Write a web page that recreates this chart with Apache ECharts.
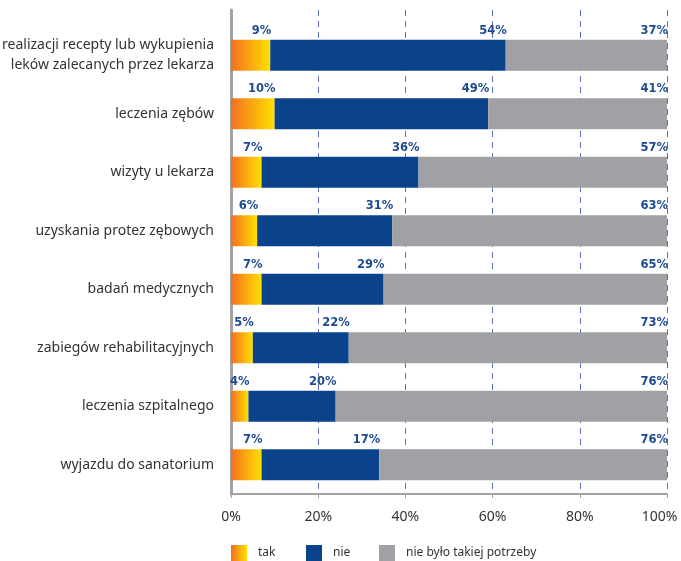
<!DOCTYPE html>
<html><head><meta charset="utf-8">
<script src="https://cdn.jsdelivr.net/npm/echarts@6/dist/echarts.min.js"></script>
<style>html,body{margin:0;padding:0;background:#fff}#c{width:681px;height:561px}</style>
</head><body><div id="c"></div>
<script>
const categories = [
  'realizacji recepty lub wykupienia\nleków zalecanych przez lekarza',
  'leczenia zębów',
  'wizyty u lekarza',
  'uzyskania protez zębowych',
  'badań medycznych',
  'zabiegów rehabilitacyjnych',
  'leczenia szpitalnego',
  'wyjazdu do sanatorium'
];
const seriesNames = ['tak', 'nie', 'nie było takiej potrzeby'];
// bar lengths as drawn in the picture
const tak = [9, 10, 7, 6, 7, 5, 4, 7];
const nie = [54, 49, 36, 31, 28, 22, 20, 27];
const brak = [37, 41, 57, 63, 65, 73, 76, 66];
// percentage labels as printed
const takLabels = [9, 10, 7, 6, 7, 5, 4, 7];
const nieLabels = [54, 49, 36, 31, 29, 22, 20, 17];
const brakLabels = [37, 41, 57, 63, 65, 73, 76, 76];
const xTicks = [0, 20, 40, 60, 80, 100];

const chart = echarts.init(document.getElementById('c'));
const grad = new echarts.graphic.LinearGradient(0, 0, 1, 0, [
  {offset: 0, color: '#f36f21'}, {offset: 1, color: '#ffe100'}
]);
const labelBase = {
  show: true, position: 'insideTopRight', distance: 0, offset: [1, -15],
  color: '#1d4a92', fontSize: 11.5, fontWeight: 'bold', fontFamily: 'DejaVu Sans'
};
function mkSeries(name, data, labels, color) {
  return {
    name, type: 'bar', stack: 'a', data, barWidth: 31,
    xAxisIndex: 0, yAxisIndex: 0,
    itemStyle: {color},
    label: Object.assign({}, labelBase, {formatter: p => labels[p.dataIndex] + '%'}),
    emphasis: {disabled: true}
  };
}
const legendCommon = {
  top: 545, itemWidth: 16, itemHeight: 16, icon: 'rect', selectedMode: false, padding: 0,
  textStyle: {color: '#333', fontSize: 12, fontFamily: 'Noto Sans', padding: [0, 0, 0, 6]}
};
chart.setOption({
  animation: false,
  legend: [
    Object.assign({}, legendCommon, {left: 231, data: [seriesNames[0]]}),
    Object.assign({}, legendCommon, {left: 306, data: [seriesNames[1]]}),
    Object.assign({}, legendCommon, {left: 379, data: [seriesNames[2]]})
  ],
  grid: [
    {left: 231, right: 14, top: 26, bottom: 67, containLabel: false, outerBoundsMode: 'none'},
    {left: 231, right: 14, top: 10, bottom: 67, containLabel: false, outerBoundsMode: 'none'}
  ],
  xAxis: [
    {type: 'value', gridIndex: 0, min: 0, max: 100, interval: 20,
      axisLine: {show: true, lineStyle: {color: '#a3a3a3', width: 2}},
      axisTick: {show: true, length: 4, lineStyle: {color: '#a3a3a3'}},
      splitLine: {show: false},
      axisLabel: {
        formatter: v => v === 100 ? '{last|100%}' : v + '%',
        color: '#333', fontSize: 14, margin: 16, fontFamily: 'Noto Sans',
        rich: {last: {color: '#333', fontSize: 14, fontFamily: 'Noto Sans', padding: [0, 15, 0, 0]}},
        customValues: xTicks}},
    {type: 'value', gridIndex: 1, min: 0, max: 100, interval: 20,
      axisLine: {show: false}, axisTick: {show: false}, axisLabel: {show: false},
      splitLine: {show: true, lineStyle: {color: '#5b6fb8', type: [6, 5], width: 1}}}
  ],
  yAxis: [
    {type: 'category', gridIndex: 0, data: categories, inverse: true,
      axisLine: {show: false}, axisTick: {show: false},
      axisLabel: {color: '#333', fontSize: 14, margin: 17, lineHeight: 20, fontFamily: 'Noto Sans', align: 'right'}},
    {type: 'value', gridIndex: 1, min: 0, max: 1,
      axisLine: {show: true, onZero: false, lineStyle: {color: '#a3a3a3', width: 3}},
      axisTick: {show: false}, axisLabel: {show: false}, splitLine: {show: false}}
  ],
  series: [
    mkSeries(seriesNames[0], tak, takLabels, grad),
    mkSeries(seriesNames[1], nie, nieLabels, '#0a428c'),
    mkSeries(seriesNames[2], brak, brakLabels, '#a0a1a5')
  ]
});
</script></body></html>
